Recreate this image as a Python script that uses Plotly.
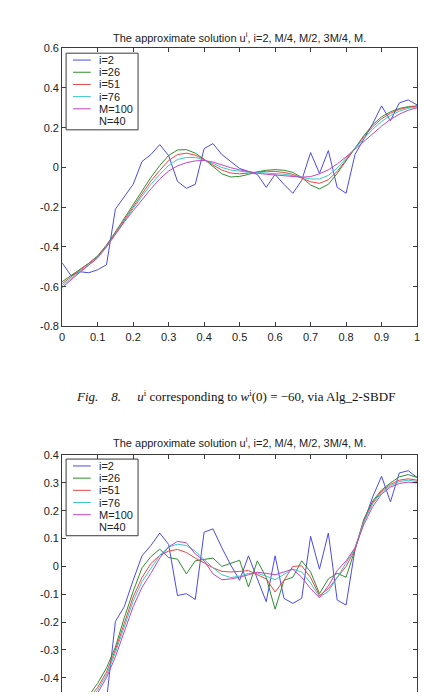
import plotly.graph_objects as go

W, H = 424, 698

# ---------------- data ----------------
x_grid = [0.0, 0.025, 0.05, 0.075, 0.1, 0.125, 0.15, 0.175, 0.2, 0.225,
          0.25, 0.275, 0.3, 0.325, 0.35, 0.375, 0.4, 0.425, 0.45, 0.475,
          0.5, 0.525, 0.55, 0.575, 0.6, 0.625, 0.65, 0.675, 0.7, 0.725,
          0.75, 0.775, 0.8, 0.825, 0.85, 0.875, 0.9, 0.925, 0.95, 0.975, 1.0]

legend_labels = ["i=2", "i=26", "i=51", "i=76", "M=100", "N=40"]
series_colors = ["#4b4be6", "#2e8f2e", "#e84545", "#3cc6c6", "#c044c0"]

title_text = "The approximate solution u<sup>i</sup>, i=2, M/4, M/2, 3M/4, M."
caption_text = ("<i>Fig.</i>&nbsp;&nbsp;&nbsp; <i>8.</i>&nbsp;&nbsp;&nbsp;&nbsp; <i>u</i><sup>i</sup> corresponding to "
                "<i>w</i><sup>i</sup>(0) = \u221260, via Alg_2-SBDF")

# Figure 8 (top panel)
p1_i2 = [-0.48, -0.545, -0.525, -0.53, -0.515, -0.49, -0.21, -0.15, -0.085, 0.03,
         0.065, 0.115, 0.06, -0.07, -0.105, -0.085, 0.095, 0.12, 0.065, 0.03,
         -0.005, -0.02, -0.035, -0.10, -0.035, -0.085, -0.13, -0.065, 0.075, -0.03,
         0.085, -0.10, -0.13, 0.065, 0.14, 0.22, 0.31, 0.235, 0.325, 0.34, 0.315]
p1_i26 = [-0.575, -0.545, -0.515, -0.482, -0.445, -0.39, -0.325, -0.255, -0.185, -0.115,
          -0.05, 0.01, 0.06, 0.088, 0.09, 0.072, 0.042, 0.005, -0.032, -0.048,
          -0.045, -0.035, -0.022, -0.014, -0.011, -0.014, -0.025, -0.05, -0.088, -0.108,
          -0.085, -0.03, 0.035, 0.10, 0.16, 0.215, 0.255, 0.28, 0.297, 0.306, 0.31]
p1_i51 = [-0.585, -0.552, -0.52, -0.487, -0.45, -0.395, -0.33, -0.262, -0.197, -0.13,
          -0.068, -0.015, 0.035, 0.065, 0.072, 0.062, 0.04, 0.012, -0.013, -0.028,
          -0.032, -0.028, -0.022, -0.019, -0.02, -0.025, -0.035, -0.052, -0.072, -0.08,
          -0.062, -0.02, 0.04, 0.10, 0.155, 0.205, 0.245, 0.273, 0.292, 0.303, 0.308]
p1_i76 = [-0.595, -0.558, -0.524, -0.49, -0.453, -0.398, -0.333, -0.268, -0.207, -0.145,
          -0.085, -0.035, 0.01, 0.04, 0.05, 0.05, 0.038, 0.02, 0.0, -0.013,
          -0.02, -0.024, -0.025, -0.027, -0.03, -0.034, -0.041, -0.05, -0.058, -0.058,
          -0.04, -0.003, 0.048, 0.097, 0.145, 0.192, 0.232, 0.262, 0.283, 0.297, 0.305]
p1_M = [-0.605, -0.565, -0.528, -0.492, -0.455, -0.40, -0.335, -0.275, -0.218, -0.162,
        -0.108, -0.058, -0.018, 0.008, 0.024, 0.033, 0.035, 0.027, 0.012, -0.001,
        -0.012, -0.021, -0.029, -0.034, -0.038, -0.042, -0.046, -0.049, -0.046, -0.032,
        -0.012, 0.018, 0.053, 0.093, 0.133, 0.172, 0.208, 0.242, 0.268, 0.288, 0.30]

# bottom panel
p2_i2 = [-0.50, -0.555, -0.535, -0.535, -0.52, -0.48, -0.198, -0.145, -0.05, 0.038,
         0.075, 0.12, 0.079, -0.105, -0.098, -0.119, 0.123, 0.135, 0.067, 0.005,
         -0.05, 0.038, -0.045, -0.127, 0.038, -0.115, -0.133, -0.115, 0.108, -0.01,
         0.12, -0.121, -0.139, 0.06, 0.16, 0.25, 0.324, 0.232, 0.336, 0.344, 0.32]
p2_i26 = [-0.57, -0.54, -0.505, -0.465, -0.42, -0.365, -0.29, -0.185, -0.09, -0.005,
          0.035, 0.062, 0.032, 0.026, -0.027, 0.02, 0.025, 0.03, 0.0, 0.01,
          0.022, -0.074, 0.02, -0.04, -0.154, -0.05, -0.039, 0.02, -0.02, -0.098,
          -0.045, -0.025, -0.039, 0.06, 0.17, 0.235, 0.275, 0.30, 0.322, 0.33, 0.32]
p2_i51 = [-0.58, -0.55, -0.515, -0.475, -0.435, -0.38, -0.30, -0.205, -0.11, -0.04,
          0.01, 0.04, 0.055, 0.061, 0.05, 0.03, 0.012, -0.005, -0.018, -0.02,
          -0.018, -0.015, -0.03, -0.045, -0.092, -0.05, 0.0, 0.002, -0.04, -0.105,
          -0.08, -0.04, 0.0, 0.06, 0.165, 0.23, 0.27, 0.295, 0.31, 0.315, 0.31]
p2_i76 = [-0.59, -0.555, -0.52, -0.483, -0.445, -0.39, -0.31, -0.215, -0.125, -0.055,
          -0.008, 0.04, 0.07, 0.08, 0.075, 0.055, 0.025, -0.005, -0.03, -0.04,
          -0.035, -0.025, -0.025, -0.035, -0.048, -0.03, -0.01, -0.02, -0.06, -0.11,
          -0.09, -0.04, 0.01, 0.065, 0.16, 0.225, 0.265, 0.29, 0.305, 0.31, 0.305]
p2_M = [-0.60, -0.565, -0.53, -0.492, -0.455, -0.40, -0.325, -0.235, -0.145, -0.075,
        -0.025, 0.03, 0.07, 0.09, 0.085, 0.045, 0.02, -0.027, -0.048, -0.045,
        -0.039, -0.03, -0.021, -0.025, -0.03, -0.02, -0.01, -0.039, -0.08, -0.113,
        -0.07, -0.015, 0.02, 0.067, 0.15, 0.215, 0.26, 0.285, 0.298, 0.303, 0.30]

x_ticks = [0, 0.1, 0.2, 0.3, 0.4, 0.5, 0.6, 0.7, 0.8, 0.9, 1]
x_ticktext = ["0", "0.1", "0.2", "0.3", "0.4", "0.5", "0.6", "0.7", "0.8", "0.9", "1"]
y1_ticks = [0.6, 0.4, 0.2, 0, -0.2, -0.4, -0.6, -0.8]
y1_ticktext = ["0.6", "0.4", "0.2", "0", "-0.2", "-0.4", "-0.6", "-0.8"]
y2_ticks = [0.4, 0.3, 0.2, 0.1, 0, -0.1, -0.2, -0.3, -0.4]
y2_ticktext = ["0.4", "0.3", "0.2", "0.1", "0", "-0.1", "-0.2", "-0.3", "-0.4"]

# ---------------- layout geometry (pixels) ----------------
AX_L, AX_R = 60, 420
P1_TOP, P1_BOT = 43, 326
P2_TOP = 457
P2_YMIN = 0.4 - (H - P2_TOP) / 283.0


def px(xp):
    return xp / W


def py(yp):
    return 1 - yp / H


FONT = "Liberation Sans, Arial, Helvetica, sans-serif"
AXCOL = "#3a3a3a"

fig = go.Figure()

panel1 = [p1_i2, p1_i26, p1_i51, p1_i76, p1_M]
panel2 = [p2_i2, p2_i26, p2_i51, p2_i76, p2_M]

for vals, col, lab in zip(panel1, series_colors, legend_labels):
    fig.add_trace(go.Scatter(x=x_grid, y=vals, mode="lines", name=lab,
                             line=dict(color=col, width=1), xaxis="x", yaxis="y",
                             showlegend=False, hoverinfo="skip"))
for vals, col, lab in zip(panel2, series_colors, legend_labels):
    fig.add_trace(go.Scatter(x=x_grid, y=vals, mode="lines", name=lab,
                             line=dict(color=col, width=1), xaxis="x2", yaxis="y2",
                             showlegend=False, hoverinfo="skip"))

axis_common = dict(showgrid=False, zeroline=False, showline=True, linecolor=AXCOL,
                   linewidth=1, ticks="inside", ticklen=4, tickcolor=AXCOL,
                   tickfont=dict(family=FONT, size=11, color="#222"))

fig.update_layout(
    width=W, height=H, margin=dict(l=0, r=0, t=0, b=0),
    paper_bgcolor="white", plot_bgcolor="white", showlegend=False,
    xaxis=dict(domain=[px(AX_L), px(AX_R)], range=[0, 1], anchor="y",
               tickvals=x_ticks, ticktext=x_ticktext, mirror="ticks", **axis_common),
    yaxis=dict(domain=[py(P1_BOT), py(P1_TOP)], range=[-0.8, 0.6], anchor="x",
               tickvals=y1_ticks, ticktext=y1_ticktext, mirror="ticks", **axis_common),
    xaxis2=dict(domain=[px(AX_L), px(AX_R)], range=[0, 1], anchor="y2", side="top",
                tickvals=x_ticks, showticklabels=False, mirror=False, **axis_common),
    yaxis2=dict(domain=[0, py(P2_TOP)], range=[P2_YMIN, 0.4], anchor="x2",
                tickvals=y2_ticks, ticktext=y2_ticktext, mirror="ticks", **axis_common),
)

annotations = []
shapes = []

# titles
for ty in (32, 444):
    annotations.append(dict(x=px(240), y=py(ty), xref="paper", yref="paper",
                            text=title_text, showarrow=False, xanchor="center",
                            yanchor="middle", font=dict(family=FONT, size=11, color="#222")))

# caption
annotations.append(dict(x=px(236), y=py(397), xref="paper", yref="paper",
                        text=caption_text, showarrow=False, xanchor="center",
                        yanchor="middle",
                        font=dict(family="Liberation Serif, Times New Roman, serif",
                                  size=13, color="#111")))

# manual legends (MATLAB style compact boxes)
for box_top in (48, 461):
    shapes.append(dict(type="rect", xref="paper", yref="paper",
                       x0=px(64), x1=px(137), y0=py(box_top + 78), y1=py(box_top),
                       line=dict(color=AXCOL, width=1), fillcolor="white", layer="above"))
    for k, lab in enumerate(legend_labels):
        ry = box_top + 7 + 12.4 * k
        if k < len(series_colors):
            shapes.append(dict(type="line", xref="paper", yref="paper",
                               x0=px(71), x1=px(89), y0=py(ry), y1=py(ry),
                               line=dict(color=series_colors[k], width=1), layer="above"))
        annotations.append(dict(x=px(95), y=py(ry), xref="paper", yref="paper",
                                text=lab, showarrow=False, xanchor="left",
                                yanchor="middle",
                                font=dict(family=FONT, size=11, color="#222")))

fig.update_layout(annotations=annotations, shapes=shapes)

fig.write_html("out.html")
